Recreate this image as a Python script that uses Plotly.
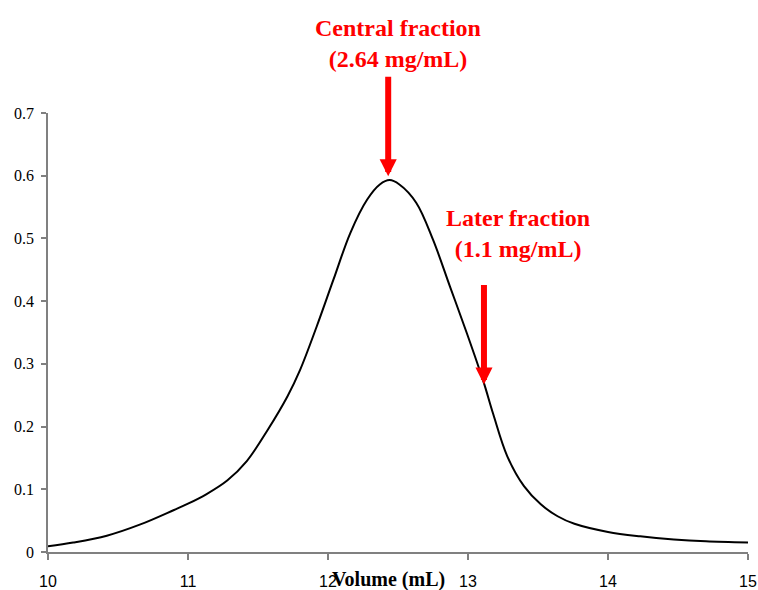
import plotly.graph_objects as go

volume_ml = [10.0, 10.18, 10.42, 10.66, 10.9, 11.0, 11.13, 11.28, 11.42, 11.57, 11.71,
             11.8, 11.92, 12.04, 12.16, 12.28, 12.37, 12.44, 12.51, 12.63, 12.75, 12.87,
             12.99, 13.11, 13.18, 13.28, 13.40, 13.52, 13.64, 13.76, 14.0, 14.23, 14.47,
             14.7, 15.0]
absorbance = [0.009, 0.015, 0.026, 0.044, 0.067, 0.077, 0.092, 0.114, 0.145, 0.195, 0.248,
              0.29, 0.36, 0.435, 0.509, 0.562, 0.586, 0.593, 0.586, 0.557, 0.498, 0.424,
              0.35, 0.272, 0.22, 0.153, 0.105, 0.076, 0.057, 0.045, 0.032, 0.025, 0.020,
              0.017, 0.015]

x_ticks = [10, 11, 12, 13, 14, 15]
y_ticks = [0, 0.1, 0.2, 0.3, 0.4, 0.5, 0.6, 0.7]
y_tick_text = ["0", "0.1", "0.2", "0.3", "0.4", "0.5", "0.6", "0.7"]

central_label = ["Central fraction", "(2.64 mg/mL)"]
later_label = ["Later fraction", "(1.1 mg/mL)"]
central_x, central_tip, central_tail = 12.43, 0.599, 0.76
later_x, later_tip, later_tail = 13.114, 0.267, 0.428

fig = go.Figure()
fig.add_trace(go.Scatter(x=volume_ml, y=absorbance, mode="lines",
                         line=dict(color="black", width=2, shape="spline", smoothing=1.0),
                         showlegend=False, hoverinfo="skip"))

red = "#ff0000"
serif = "Liberation Serif"


def bold_lines(lines):
    return "<br>".join("<b>" + s + "</b>" for s in lines)


annos = []
for x, tip, tail in [(central_x, central_tip, central_tail), (later_x, later_tip, later_tail)]:
    annos.append(dict(x=x, y=tip, ax=x, ay=tail, xref="x", yref="y", axref="x", ayref="y",
                      text="", showarrow=True, arrowhead=2, arrowwidth=6, arrowsize=0.57,
                      arrowcolor=red, standoff=0))
annos.append(dict(x=0.5007, y=1.159, xref="paper", yref="paper", text=bold_lines(central_label),
                  showarrow=False, font=dict(family=serif, size=24, color=red),
                  xanchor="center", yanchor="middle", align="center"))
annos.append(dict(x=13.357, y=0.508, xref="x", yref="y", text=bold_lines(later_label),
                  showarrow=False, font=dict(family=serif, size=24, color=red),
                  xanchor="center", yanchor="middle", align="center"))
annos.append(dict(x=0.487, y=-0.0626, xref="paper", yref="paper", text="<b>Volume (mL)</b>",
                  showarrow=False, font=dict(family=serif, size=20, color="black"),
                  xanchor="center", yanchor="middle"))

axis_color = "#808080"
fig.update_layout(
    width=758, height=590,
    margin=dict(l=48, r=10, t=113, b=37.5, autoexpand=False),
    paper_bgcolor="white", plot_bgcolor="white",
    annotations=annos,
    xaxis=dict(range=[10, 15], tickvals=x_ticks, ticks="outside", ticklen=6, tickwidth=1.5,
               tickcolor=axis_color, showline=True, linecolor=axis_color, linewidth=1.5,
               showgrid=False, zeroline=False, ticklabelstandoff=8, automargin=False,
               ticklabeloverflow="allow",
               tickfont=dict(family="Liberation Sans", size=16, color="black")),
    yaxis=dict(range=[0, 0.7], tickvals=y_ticks, ticktext=y_tick_text,
               ticks="outside", ticklen=5, tickwidth=1.5,
               tickcolor=axis_color, showline=True, linecolor=axis_color, linewidth=1.5,
               showgrid=False, zeroline=False, ticklabelstandoff=4, automargin=False,
               ticklabeloverflow="allow",
               tickfont=dict(family=serif, size=16, color="black")),
)

fig.write_html("out.html", config={"displayModeBar": False},
               post_script="document.body.style.margin='0';")
